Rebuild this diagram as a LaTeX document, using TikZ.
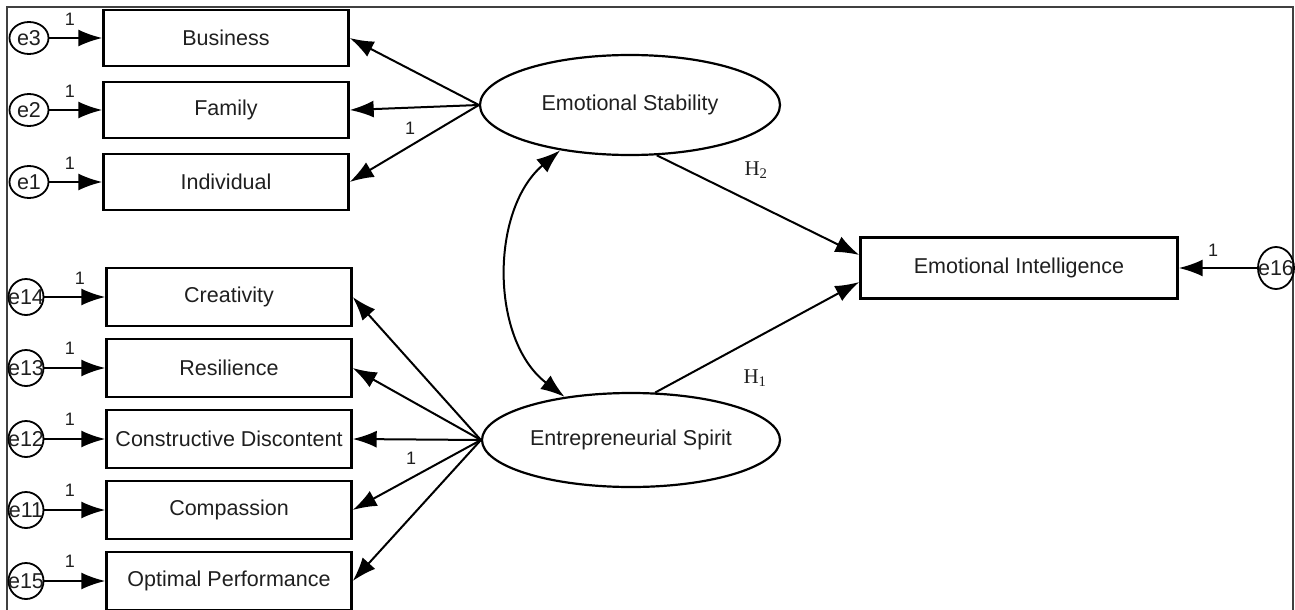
\documentclass[tikz,border=0pt]{standalone}
\usepackage{fontspec}
\setmainfont{Liberation Sans}
\newfontfamily\serifH{Liberation Serif}
\usetikzlibrary{arrows.meta,shapes.geometric}
\begin{document}
\begin{tikzpicture}[x=1pt,y=-1pt,
  every node/.style={font=\fontsize{21.5}{24}\selectfont, inner sep=0pt, text=black!88},
  obs/.style={draw, line width=2.4pt, minimum width=245pt, minimum height=56pt},
  obsb/.style={obs, minimum height=58pt},
  lat/.style={draw, ellipse, line width=2.2pt},
  err/.style={draw, ellipse, line width=1.8pt, minimum width=39pt, minimum height=32pt},
  errb/.style={draw, ellipse, line width=1.8pt, minimum width=35pt, minimum height=36pt},
  arr/.style={line width=2pt, -{Latex[length=24pt,width=17pt]}},
  cov/.style={line width=2pt, {Latex[length=24pt,width=17pt]}-{Latex[length=24pt,width=17pt]}},
  one/.style={font=\fontsize{18}{20}\selectfont},
  hyp/.style={font=\serifH\fontsize{21}{23}\selectfont}]
\useasboundingbox (0,0) rectangle (1295,610);
\draw[line width=1.6pt, black!75] (7,610) -- (7,7) -- (1293,7) -- (1293,610);

% observed indicators
\node[obs] (bus) at (226,38) {Business};
\node[obs] (fam) at (226,110) {Family};
\node[obs] (ind) at (226,182) {Individual};
\node[obsb] (cre) at (229,297) {Creativity};
\node[obsb] (res) at (229,368) {Resilience};
\node[obsb] (con) at (229,439) {Constructive Discontent};
\node[obsb] (com) at (229,510) {Compassion};
\node[obsb] (opt) at (229,581) {Optimal Performance};

% latent
\node[lat, minimum width=300pt, minimum height=100pt] (es) at (630,105) {Emotional Stability};
\node[lat, minimum width=298pt, minimum height=94pt] (sp) at (631,440) {Entrepreneurial Spirit};
\node[obs, minimum width=317pt, minimum height=61pt] (ei) at (1019,268) {Emotional Intelligence};

% errors
\node[err] (e3) at (29,38) {\makebox[0pt]{e3}};
\node[err] (e2) at (29,110) {\makebox[0pt]{e2}};
\node[err] (e1) at (29,182) {\makebox[0pt]{e1}};
\node[errb] (e14) at (26,297) {\makebox[0pt]{e14}};
\node[errb] (e13) at (26,368) {\makebox[0pt]{e13}};
\node[errb] (e12) at (26,439) {\makebox[0pt]{e12}};
\node[errb] (e11) at (26,510) {\makebox[0pt]{e11}};
\node[errb] (e15) at (26,581) {\makebox[0pt]{e15}};
\node[draw, ellipse, line width=1.8pt, minimum width=36pt, minimum height=42pt] (e16) at (1276,268) {\makebox[0pt]{e16}};

% error arrows
\foreach \e/\b in {e3/bus,e2/fam,e1/ind,e14/cre,e13/res,e12/con,e11/com,e15/opt}
  \draw[arr] (\e) -- (\b);
\draw[arr] (e16) -- (ei);

% loadings
\foreach \b in {bus,fam,ind}
  \draw[arr] (es.west) -- (\b.east);
\foreach \b in {cre,res,con,com,opt}
  \draw[arr] (sp.west) -- (\b.east);

% structural paths
\draw[arr] (es.-62) -- ([yshift=13pt]ei.west);
\draw[arr] (sp.63) -- ([yshift=-14pt]ei.west);
\draw[cov] (es.213) .. controls (490,210) and (490,340) .. (sp.147);

% labels
\node[one] (l3) at (70,19) {1};
\node[one] (l2) at (70,91) {1};
\node[one] (l1) at (70,163) {1};
\node[one] (l14) at (80,278) {1};
\node[one] (l13) at (70,348) {1};
\node[one] (l12) at (70,419) {1};
\node[one] (l11) at (70,490) {1};
\node[one] (l15) at (70,561) {1};
\node[one] (l16) at (1213,250) {1};
\node[one] (les) at (410,128) {1};
\node[one] (lsp) at (411,458) {1};
\node[hyp] (h2) at (756,170) {H\textsubscript{2}};
\node[hyp] (h1) at (755,378) {H\textsubscript{1}};
\end{tikzpicture}
\end{document}
